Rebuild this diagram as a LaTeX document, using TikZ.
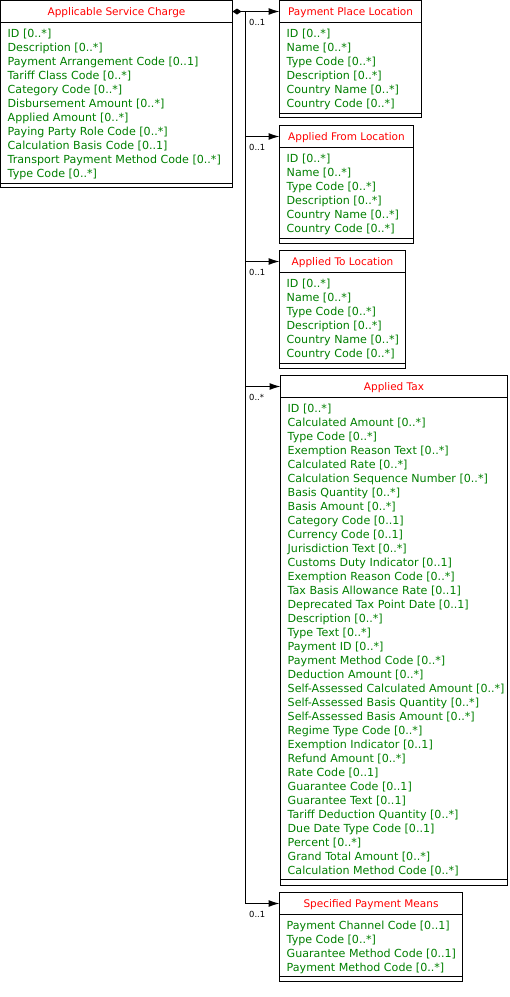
\documentclass[tikz,border=0pt]{standalone}
\usepackage{fontspec}
\setmainfont{DejaVu Sans}
\usetikzlibrary{calc,arrows.meta}
\definecolor{umlred}{RGB}{255,0,0}
\definecolor{umlgreen}{RGB}{0,128,0}
\tikzset{
  umlbox/.style={draw=black, line width=1pt, rectangle, inner sep=0pt, outer sep=0pt, fill=white},
  sepline/.style={draw=black, line width=1pt},
  umltitle/.style={text=umlred, font=\fontsize{10.5}{12}\selectfont, inner sep=0pt},
  umlattr/.style={text=umlgreen, font=\fontsize{11.1}{12}\selectfont, inner sep=0pt},
  mult/.style={text=black, font=\fontsize{8.4}{10}\selectfont, inner sep=0pt},
  conn/.style={draw=black, line width=1pt, -{Latex[length=11pt,width=7pt]}},
}
\newcommand\umlclass[8]{%
  \node[umlbox, minimum width=#4pt, minimum height=#5pt, anchor=north west] (#1) at (#2,#3) {};
  \draw[sepline] ($(#1.north west)+(0,22)$) -- ($(#1.north east)+(0,22)$);
  \draw[sepline] ($(#1.north west)+(0,#6)$) -- ($(#1.north east)+(0,#6)$);
  \node[umltitle, anchor=base] (#1-t) at ($(#1.north)+(0,15)$) {#7};
  \foreach \a [count=\i] in {#8} {
    \node[umlattr, anchor=base west] (#1-a\i) at ($(#1.north west)+(7,23+14*\i)$) {\a};
  }
}
\begin{document}
\begin{tikzpicture}[x=1pt,y=-1pt]
\useasboundingbox (0,0) rectangle (510,997);
\fill[white] (0,0) rectangle (510,997);

\umlclass{asc}{0.5}{0.5}{232}{187}{183}{Applicable Service Charge}{{ID [0..*]},{Description [0..*]},{Payment Arrangement Code [0..1]},{Tariff Class Code [0..*]},{Category Code [0..*]},{Disbursement Amount [0..*]},{Applied Amount [0..*]},{Paying Party Role Code [0..*]},{Calculation Basis Code [0..1]},{Transport Payment Method Code [0..*]},{Type Code [0..*]}}

\umlclass{ppl}{279.5}{0.5}{142}{117}{113}{Payment Place Location}{{ID [0..*]},{Name [0..*]},{Type Code [0..*]},{Description [0..*]},{Country Name [0..*]},{Country Code [0..*]}}

\umlclass{afl}{279.5}{125.5}{134}{118}{113}{Applied From Location}{{ID [0..*]},{Name [0..*]},{Type Code [0..*]},{Description [0..*]},{Country Name [0..*]},{Country Code [0..*]}}

\umlclass{atl}{279.5}{250.5}{126}{118}{113}{Applied To Location}{{ID [0..*]},{Name [0..*]},{Type Code [0..*]},{Description [0..*]},{Country Name [0..*]},{Country Code [0..*]}}

\umlclass{tax}{280.5}{375.5}{227}{510}{504}{Applied Tax}{{ID [0..*]},{Calculated Amount [0..*]},{Type Code [0..*]},{Exemption Reason Text [0..*]},{Calculated Rate [0..*]},{Calculation Sequence Number [0..*]},{Basis Quantity [0..*]},{Basis Amount [0..*]},{Category Code [0..1]},{Currency Code [0..1]},{Jurisdiction Text [0..*]},{Customs Duty Indicator [0..1]},{Exemption Reason Code [0..*]},{Tax Basis Allowance Rate [0..1]},{Deprecated Tax Point Date [0..1]},{Description [0..*]},{Type Text [0..*]},{Payment ID [0..*]},{Payment Method Code [0..*]},{Deduction Amount [0..*]},{Self-Assessed Calculated Amount [0..*]},{Self-Assessed Basis Quantity [0..*]},{Self-Assessed Basis Amount [0..*]},{Regime Type Code [0..*]},{Exemption Indicator [0..1]},{Refund Amount [0..*]},{Rate Code [0..1]},{Guarantee Code [0..1]},{Guarantee Text [0..1]},{Tariff Deduction Quantity [0..*]},{Due Date Type Code [0..1]},{Percent [0..*]},{Grand Total Amount [0..*]},{Calculation Method Code [0..*]}}

\umlclass{spm}{279.5}{892.5}{183}{89}{84}{Specified Payment Means}{{Payment Channel Code [0..1]},{Type Code [0..*]},{Guarantee Method Code [0..1]},{Payment Method Code [0..*]}}

% connectors
\coordinate (j) at ($(asc.north east)+(13,11)$);
\draw[conn, {Diamond[length=9pt,width=6pt]}-{Latex[length=11pt,width=7pt]}] ($(asc.north east)+(0,11)$) -- ($(ppl.north west)+(0,11)$);
\draw[conn] (j) |- ($(afl.north west)+(0,11)$);
\draw[conn] (j) |- ($(atl.north west)+(0,11)$);
\draw[conn] (j) |- ($(tax.north west)+(0,11)$);
\draw[conn] (j) |- ($(spm.north west)+(0,11)$);

\node[mult, anchor=base west] (m1) at ($(j)+(3.5,14)$) {0..1};
\node[mult, anchor=base west] (m2) at ($(j |- afl.north)+(3.5,25)$) {0..1};
\node[mult, anchor=base west] (m3) at ($(j |- atl.north)+(3.5,25)$) {0..1};
\node[mult, anchor=base west] (m4) at ($(j |- tax.north)+(3.5,25)$) {0..*};
\node[mult, anchor=base west] (m5) at ($(j |- spm.north)+(3.5,25)$) {0..1};
\end{tikzpicture}
\end{document}
